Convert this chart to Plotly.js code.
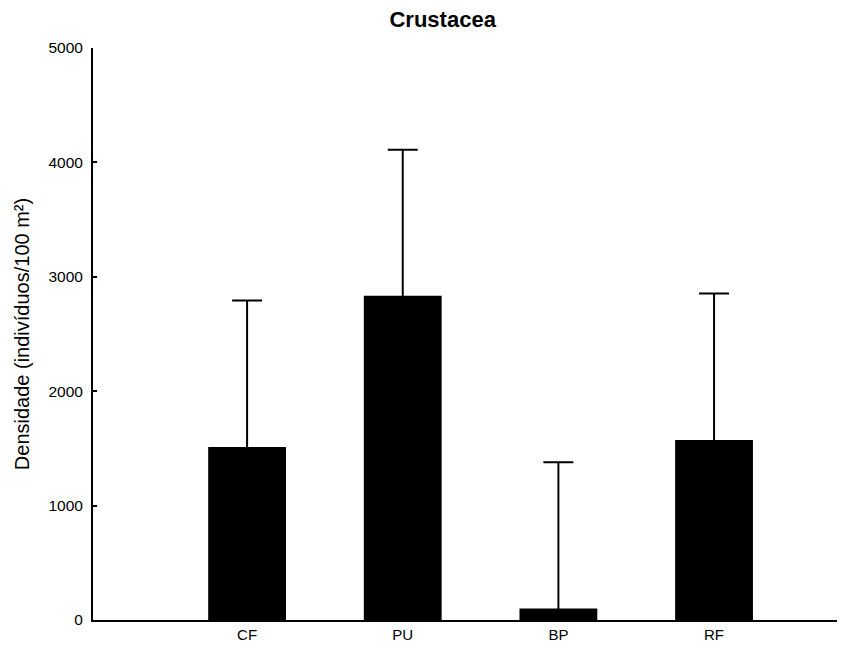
<!DOCTYPE html>
<html>
<head>
<meta charset="utf-8">
<script src="https://cdn.plot.ly/plotly-3.0.1.min.js"></script>
<style>html,body{margin:0;padding:0;background:#fff;}#chart{width:864px;height:648px;}</style>
</head>
<body>
<div id="chart"></div>
<script>
const categories = ["CF", "PU", "BP", "RF"];
const means = [1512, 2835, 100, 1573];
const upperErrors = [1280, 1275, 1280, 1280];
const yTicks = [0, 1000, 2000, 3000, 4000, 5000];

const positions = categories.map((c, i) => i + 1);

const trace = {
  type: "bar",
  x: positions,
  y: means,
  width: 0.5,
  marker: {color: "#000000", line: {width: 0}},
  error_y: {
    type: "data",
    symmetric: false,
    array: upperErrors,
    arrayminus: means.map(() => 25),
    color: "#000000",
    thickness: 2,
    width: 15
  },
  hoverinfo: "skip"
};

const layout = {
  width: 864,
  height: 648,
  margin: {l: 93, r: 27, t: 48, b: 28},
  paper_bgcolor: "#ffffff",
  plot_bgcolor: "#ffffff",
  showlegend: false,
  font: {family: "Liberation Sans, Arial, sans-serif", color: "#000000", size: 15},
  title: {
    text: "<b>Crustacea</b>",
    font: {size: 22, family: "Liberation Sans, Arial, sans-serif", color: "#000000"},
    x: 0.47, xref: "paper", xanchor: "center",
    y: 0.9707, yref: "container", yanchor: "middle"
  },
  xaxis: {
    range: [0.01, 4.79],
    tickvals: positions,
    ticktext: categories,
    ticks: "",
    showgrid: false,
    zeroline: false,
    showline: true,
    linecolor: "#000000",
    linewidth: 2,
    tickfont: {size: 15}
  },
  yaxis: {
    range: [0, 5000],
    tickvals: yTicks,
    ticktext: yTicks.map(String),
    ticks: "inside",
    ticklen: 4,
    tickwidth: 2,
    tickcolor: "#000000",
    ticklabelstandoff: 5,
    showgrid: false,
    zeroline: false,
    showline: true,
    linecolor: "#000000",
    linewidth: 2,
    tickfont: {size: 15.5},
    title: {text: "Densidade (indivíduos/100 m²)", font: {size: 20}, standoff: 13}
  }
};

Plotly.newPlot("chart", [trace], layout, {displayModeBar: false, staticPlot: true});
</script>
</body>
</html>
